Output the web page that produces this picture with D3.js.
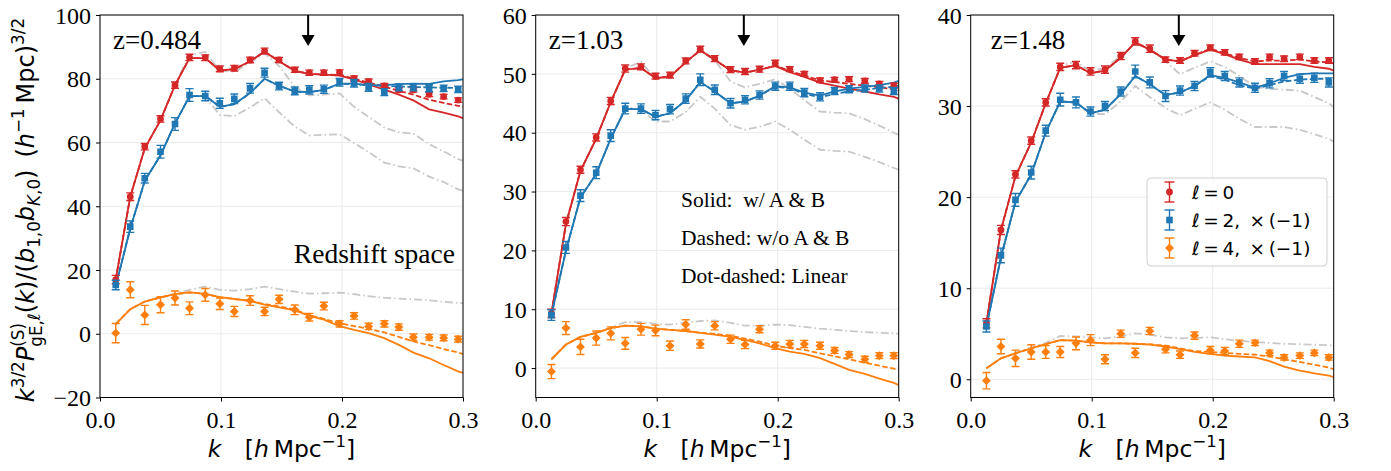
<!DOCTYPE html>
<html>
<head>
<meta charset="utf-8">
<script src="https://cdn.jsdelivr.net/npm/d3@7"></script>
<style>
  body { margin: 0; background: #fff; }
  svg { display: block; }
</style>
</head>
<body>
<div id="chart"></div>
<script>
// k bins of the measurements, and the model curves (one extra point at the edge)
var kData = [0.013, 0.025, 0.037, 0.050, 0.062, 0.074, 0.087, 0.099, 0.111, 0.124, 0.136, 0.148,
             0.161, 0.173, 0.185, 0.198, 0.210, 0.222, 0.235, 0.247, 0.259, 0.272, 0.284, 0.296];
var kModel = [0.013, 0.025, 0.037, 0.050, 0.062, 0.074, 0.087, 0.099, 0.111, 0.124, 0.136, 0.148,
              0.161, 0.173, 0.185, 0.198, 0.210, 0.222, 0.235, 0.247, 0.259, 0.272, 0.284, 0.296, 0.300];
var xTicks = [0.0, 0.1, 0.2, 0.3];
var arrowK = [0.172, 0.172, 0.172];
var redshifts = ["z=0.484", "z=1.03", "z=1.48"];

// ---- z = 0.484
var mono1 = [17.0, 43.0, 58.7, 67.4, 78.0, 86.7, 86.6, 83.1, 83.3, 85.9, 88.7, 85.9, 82.8, 81.9, 81.9, 82.0, 80.1, 79.1, 77.8, 76.5, 76.5, 75.1, 74.4, 73.3];
var mono1Err = [1.3, 1.2, 1.0, 1.0, 1.0, 1.0, 0.9, 0.9, 0.9, 0.9, 0.9, 0.8, 0.8, 0.8, 0.8, 0.8, 0.8, 0.8, 0.7, 0.7, 0.7, 0.7, 0.7, 0.7];
var quad1 = [15.3, 33.6, 48.8, 57.1, 65.8, 74.9, 74.6, 72.3, 73.7, 77.0, 81.9, 77.7, 76.2, 76.5, 76.7, 78.9, 78.6, 77.3, 75.8, 77.3, 77.3, 77.0, 77.0, 76.7];
var quad1Err = [1.5, 1.8, 1.5, 2.0, 2.0, 2.0, 1.5, 1.6, 1.5, 1.5, 1.4, 1.2, 1.2, 1.3, 1.3, 1.2, 1.2, 1.2, 1.1, 1.1, 1.1, 1.1, 1.0, 1.0];
var hexa1 = [0.2, 13.8, 5.9, 9.1, 11.2, 8.0, 12.2, 9.4, 7.0, 10.4, 7.0, 10.8, 7.5, 5.2, 8.7, 3.1, 5.6, 2.3, 3.1, 2.1, -1.1, -1.1, -1.3, -1.7];
var hexa1Err = [3.0, 2.5, 3.0, 2.5, 2.2, 2.0, 2.0, 1.8, 1.6, 1.5, 1.3, 1.3, 1.5, 1.2, 1.2, 1.0, 1.0, 1.0, 1.0, 1.0, 1.0, 0.9, 0.9, 0.9];
var mono1Solid = [17.0, 43.0, 58.2, 67.0, 78.0, 86.5, 86.5, 82.6, 83.0, 85.5, 88.5, 85.5, 82.5, 81.5, 81.3, 81.0, 79.8, 78.2, 76.6, 75.0, 73.2, 70.4, 69.4, 68.2, 67.6];
var mono1Dashed = [17.0, 43.0, 58.2, 67.0, 78.0, 86.5, 86.5, 82.6, 83.0, 85.5, 88.5, 85.5, 82.5, 81.5, 81.3, 81.2, 80.0, 78.8, 77.5, 76.2, 75.0, 73.4, 72.4, 71.5, 71.2];
var mono1Lin = [17.0, 43.0, 58.2, 67.0, 78.0, 87.5, 88.4, 82.5, 82.2, 85.0, 88.0, 84.0, 77.5, 74.8, 75.0, 75.4, 71.2, 68.0, 64.7, 63.2, 62.8, 59.5, 57.2, 54.8, 54.3];
var quad1Solid = [15.0, 33.0, 48.0, 56.0, 66.0, 74.5, 74.6, 71.2, 72.0, 75.5, 80.0, 77.8, 76.0, 75.8, 76.5, 78.5, 78.5, 78.0, 78.0, 78.3, 78.5, 78.4, 79.2, 79.6, 79.8];
var quad1Dashed = [15.0, 33.0, 48.0, 56.0, 66.0, 74.5, 74.6, 71.2, 72.0, 75.5, 80.0, 77.8, 76.0, 75.8, 76.5, 78.4, 78.3, 77.9, 77.8, 77.6, 77.4, 77.3, 77.2, 77.1, 77.0];
var quad1Lin = [15.0, 33.0, 48.0, 56.0, 66.0, 74.5, 74.4, 68.6, 68.3, 71.0, 73.9, 69.5, 65.0, 62.2, 62.4, 62.6, 59.8, 57.0, 53.7, 52.5, 51.9, 49.3, 47.6, 45.3, 44.9];
var hexa1Solid = [3.0, 7.7, 10.1, 11.4, 12.4, 13.0, 12.5, 11.5, 10.9, 10.3, 9.1, 8.3, 7.3, 5.6, 4.4, 2.4, 1.2, 0.2, -1.4, -3.5, -5.9, -7.7, -9.8, -11.8, -12.3];
var hexa1Dashed = [3.0, 7.7, 10.1, 11.4, 12.4, 13.0, 12.5, 11.5, 10.9, 10.3, 9.3, 8.6, 7.6, 5.8, 4.7, 3.3, 2.4, 1.6, 0.4, -1.0, -2.4, -3.6, -4.8, -5.9, -6.3];
var hexa1Lin = [3.0, 7.7, 10.1, 11.5, 12.6, 13.8, 14.8, 13.8, 13.5, 14.0, 14.8, 14.0, 13.2, 12.6, 12.7, 12.9, 12.4, 11.8, 11.3, 11.0, 10.8, 10.5, 10.0, 9.7, 9.6];

// ---- z = 1.03
var mono2 = [9.3, 24.9, 33.7, 39.2, 45.4, 50.9, 51.2, 49.6, 49.8, 52.2, 54.2, 52.6, 50.7, 50.4, 50.8, 51.8, 50.8, 50.0, 48.9, 49.0, 49.1, 48.8, 48.3, 48.0];
var mono2Err = [0.7, 0.7, 0.6, 0.6, 0.6, 0.6, 0.5, 0.5, 0.5, 0.5, 0.5, 0.5, 0.5, 0.5, 0.5, 0.5, 0.4, 0.4, 0.4, 0.4, 0.4, 0.4, 0.4, 0.4];
var quad2 = [9.0, 20.5, 29.3, 33.2, 39.5, 44.1, 44.1, 43.0, 44.0, 45.8, 49.0, 47.3, 45.0, 45.6, 46.4, 47.9, 47.9, 46.8, 46.1, 47.1, 47.4, 47.5, 47.5, 47.1];
var quad2Err = [0.9, 1.0, 1.0, 1.0, 1.0, 0.9, 0.8, 0.8, 0.8, 0.8, 1.0, 0.8, 0.8, 0.7, 0.7, 0.7, 0.7, 0.7, 0.7, 0.6, 0.6, 0.6, 0.6, 0.6];
var hexa2 = [-0.6, 6.8, 3.6, 5.1, 5.9, 4.2, 6.6, 6.4, 3.8, 7.4, 4.1, 7.2, 4.9, 4.0, 6.6, 3.8, 4.1, 4.1, 3.8, 3.0, 2.3, 1.5, 2.1, 2.1];
var hexa2Err = [1.2, 1.1, 1.3, 1.2, 1.1, 1.0, 1.0, 0.9, 0.8, 0.8, 0.7, 0.7, 0.7, 0.7, 0.6, 0.6, 0.6, 0.6, 0.6, 0.5, 0.5, 0.5, 0.5, 0.5];
var mono2Solid = [9.3, 24.5, 33.5, 39.0, 45.2, 50.7, 51.0, 49.3, 49.5, 52.0, 54.0, 52.4, 50.6, 50.2, 50.7, 51.3, 50.3, 49.5, 48.5, 48.0, 47.5, 47.0, 46.5, 46.1, 45.8];
var mono2Dashed = [9.3, 24.5, 33.5, 39.0, 45.2, 50.7, 51.0, 49.3, 49.5, 52.0, 54.0, 52.4, 50.6, 50.2, 50.7, 51.4, 50.5, 49.7, 48.9, 48.6, 48.3, 48.0, 47.7, 47.4, 47.2];
var mono2Lin = [9.3, 24.5, 33.5, 39.0, 45.2, 51.0, 52.0, 49.2, 49.5, 52.0, 54.0, 52.3, 48.7, 47.7, 48.3, 49.1, 47.5, 45.5, 43.6, 43.4, 43.3, 42.3, 41.2, 40.0, 39.6];
var quad2Solid = [9.0, 20.0, 29.0, 33.0, 39.0, 44.0, 44.0, 42.7, 43.3, 45.5, 48.6, 47.0, 45.0, 45.3, 46.3, 47.9, 47.7, 46.8, 46.3, 47.0, 47.5, 47.8, 48.1, 48.5, 48.8];
var quad2Dashed = [9.0, 20.0, 29.0, 33.0, 39.0, 44.0, 44.0, 42.7, 43.3, 45.5, 48.6, 47.0, 45.0, 45.3, 46.3, 47.8, 47.6, 46.6, 46.0, 46.6, 47.0, 47.3, 47.6, 47.8, 48.0];
var quad2Lin = [9.0, 20.0, 29.0, 33.0, 39.0, 44.4, 43.9, 41.9, 41.9, 43.5, 46.1, 44.1, 41.3, 40.5, 41.0, 41.9, 40.5, 38.8, 37.1, 36.9, 36.8, 35.9, 35.0, 34.0, 33.7];
var hexa2Solid = [1.5, 4.0, 5.3, 6.0, 6.8, 7.2, 7.1, 6.7, 6.5, 6.3, 6.0, 5.7, 5.3, 4.8, 4.2, 3.4, 2.8, 2.4, 1.7, 0.7, -0.3, -1.0, -1.8, -2.5, -2.9];
var hexa2Dashed = [1.5, 4.0, 5.3, 6.0, 6.8, 7.2, 7.1, 6.7, 6.5, 6.3, 6.0, 5.8, 5.5, 5.0, 4.5, 3.8, 3.4, 3.1, 2.5, 2.0, 1.5, 0.9, 0.4, -0.1, -0.3];
var hexa2Lin = [1.5, 4.0, 5.3, 6.0, 6.9, 7.8, 7.8, 7.5, 7.4, 7.7, 8.0, 8.1, 7.7, 7.2, 7.2, 7.4, 7.3, 7.0, 6.7, 6.5, 6.3, 6.1, 6.0, 5.9, 5.8];

// ---- z = 1.48
var mono3 = [6.15, 16.4, 22.5, 26.2, 30.4, 34.3, 34.5, 33.8, 34.0, 35.5, 37.1, 36.3, 35.1, 35.0, 35.8, 36.4, 35.9, 35.4, 34.9, 35.4, 35.2, 35.4, 35.0, 35.0];
var mono3Err = [0.5, 0.5, 0.4, 0.4, 0.4, 0.4, 0.4, 0.4, 0.4, 0.4, 0.4, 0.4, 0.3, 0.3, 0.3, 0.3, 0.3, 0.3, 0.3, 0.3, 0.3, 0.3, 0.3, 0.3];
var quad3 = [5.8, 13.6, 19.7, 22.7, 27.3, 30.7, 30.4, 29.4, 30.0, 31.6, 33.8, 32.6, 31.1, 31.7, 32.2, 33.7, 33.3, 32.6, 32.0, 32.5, 33.3, 33.0, 33.1, 32.6];
var quad3Err = [0.6, 0.8, 0.7, 0.7, 0.6, 0.7, 0.6, 0.5, 0.5, 0.5, 0.7, 0.6, 0.6, 0.5, 0.5, 0.5, 0.5, 0.5, 0.5, 0.5, 0.5, 0.5, 0.5, 0.5];
var hexa3 = [-0.15, 3.6, 2.3, 3.0, 3.0, 3.0, 3.95, 4.3, 2.2, 5.0, 2.9, 5.3, 3.3, 2.7, 4.8, 3.2, 3.1, 3.9, 4.0, 2.9, 2.4, 2.6, 2.9, 2.4];
var hexa3Err = [0.9, 0.8, 0.9, 0.8, 0.7, 0.6, 0.7, 0.6, 0.5, 0.4, 0.5, 0.4, 0.4, 0.4, 0.4, 0.4, 0.4, 0.4, 0.3, 0.3, 0.3, 0.3, 0.3, 0.3];
var mono3Solid = [6.2, 16.4, 22.3, 26.0, 30.3, 34.2, 34.5, 33.6, 33.9, 35.3, 37.0, 36.2, 35.1, 34.9, 35.6, 36.2, 35.7, 35.1, 34.6, 34.6, 34.6, 34.6, 34.3, 34.1, 33.9];
var mono3Dashed = [6.2, 16.4, 22.3, 26.0, 30.3, 34.2, 34.5, 33.6, 33.9, 35.3, 37.0, 36.2, 35.1, 34.9, 35.6, 36.3, 35.8, 35.3, 34.9, 35.0, 35.0, 35.1, 34.9, 34.8, 34.7];
var mono3Lin = [6.2, 16.4, 22.3, 26.0, 30.3, 34.4, 34.9, 33.8, 34.2, 35.5, 36.9, 36.2, 34.9, 33.5, 34.2, 34.9, 34.3, 33.3, 32.1, 31.9, 31.8, 31.7, 31.0, 30.3, 29.9];
var quad3Solid = [5.8, 13.4, 19.5, 22.5, 27.1, 30.5, 30.4, 29.2, 29.6, 31.3, 33.3, 32.4, 31.2, 31.5, 32.2, 33.4, 33.1, 32.6, 32.0, 32.5, 33.1, 33.5, 33.6, 33.6, 33.6];
var quad3Dashed = [5.8, 13.4, 19.5, 22.5, 27.1, 30.5, 30.4, 29.2, 29.6, 31.3, 33.3, 32.4, 31.2, 31.5, 32.2, 33.3, 32.9, 32.3, 31.9, 32.3, 32.7, 32.9, 33.0, 33.0, 33.0];
var quad3Lin = [5.8, 13.4, 19.5, 22.5, 27.1, 30.6, 30.3, 29.2, 29.1, 30.5, 32.2, 31.0, 29.8, 29.0, 29.7, 30.4, 29.6, 28.6, 27.7, 27.7, 27.7, 27.4, 26.9, 26.4, 26.1];
var hexa3Solid = [1.2, 2.3, 2.85, 3.4, 3.85, 4.3, 4.24, 4.06, 3.95, 3.95, 3.9, 3.8, 3.6, 3.3, 3.0, 2.8, 2.6, 2.5, 2.4, 2.0, 1.4, 0.95, 0.66, 0.4, 0.25];
var hexa3Dashed = [1.2, 2.3, 2.85, 3.4, 3.85, 4.3, 4.24, 4.06, 3.95, 3.95, 3.9, 3.85, 3.7, 3.4, 3.1, 3.0, 2.9, 2.8, 2.7, 2.5, 2.2, 1.9, 1.6, 1.3, 1.1];
var hexa3Lin = [1.2, 2.3, 2.9, 3.5, 4.0, 4.75, 4.7, 4.6, 4.5, 4.7, 5.05, 4.9, 4.6, 4.5, 4.55, 4.6, 4.4, 4.2, 4.1, 4.0, 3.9, 3.85, 3.8, 3.75, 3.7];

var yDomains = [[-20, 100], [-5, 60], [-2, 40]];
var yTicks = [[-20, 0, 20, 40, 60, 80, 100], [0, 10, 20, 30, 40, 50, 60], [0, 10, 20, 30, 40]];

// ---------------------------------------------------------------
var W = 1391, H = 471;
var plotTop = 15, plotBottom = 397.5, plotW = 363;
var panelLeft = [100, 535.7, 970.7];
var zLabelX = [13, 13, 20];

var red = "#d62728", blue = "#1f77b4", orange = "#ff7f0e", gray = "#c8c8c8";
var serif = "'Liberation Serif', 'Times New Roman', serif";
var sans = "'DejaVu Sans', sans-serif";

var panels = [
    { mono: mono1, monoErr: mono1Err, quad: quad1, quadErr: quad1Err, hexa: hexa1, hexaErr: hexa1Err,
      models: [[mono1Solid, mono1Dashed, mono1Lin], [quad1Solid, quad1Dashed, quad1Lin], [hexa1Solid, hexa1Dashed, hexa1Lin]] },
    { mono: mono2, monoErr: mono2Err, quad: quad2, quadErr: quad2Err, hexa: hexa2, hexaErr: hexa2Err,
      models: [[mono2Solid, mono2Dashed, mono2Lin], [quad2Solid, quad2Dashed, quad2Lin], [hexa2Solid, hexa2Dashed, hexa2Lin]] },
    { mono: mono3, monoErr: mono3Err, quad: quad3, quadErr: quad3Err, hexa: hexa3, hexaErr: hexa3Err,
      models: [[mono3Solid, mono3Dashed, mono3Lin], [quad3Solid, quad3Dashed, quad3Lin], [hexa3Solid, hexa3Dashed, hexa3Lin]] }
];
var seriesColors = [red, blue, orange];
var markerShapes = ["circle", "square", "diamond"];

var svg = d3.select("#chart").append("svg")
    .attr("width", W)
    .attr("height", H)
    .style("background", "#fff");

function fmtTick(v) {
    return (v < 0 ? "\u2212" : "") + Math.abs(v);
}

// draws a marker at (0,0) of group g
function drawMarker(g, shape, color) {
    if (shape === "circle") {
        g.append("path").attr("d", d3.symbol(d3.symbolCircle, 36)()).attr("fill", color);
    } else if (shape === "square") {
        g.append("path").attr("d", d3.symbol(d3.symbolSquare, 44)()).attr("fill", color);
    } else {
        g.append("path").attr("d", d3.symbol(d3.symbolSquare, 40)())
            .attr("transform", "rotate(45)").attr("fill", color);
    }
}

panels.forEach(function(p, pi) {
    var left = panelLeft[pi];
    var x = d3.scaleLinear().domain([0, 0.3]).range([left, left + plotW]);
    var y = d3.scaleLinear().domain(yDomains[pi]).range([plotBottom, plotTop]);

    var g = svg.append("g");

    // grid
    g.selectAll(".gx").data(xTicks).enter().append("line")
        .attr("x1", function(d) { return x(d); }).attr("x2", function(d) { return x(d); })
        .attr("y1", plotTop).attr("y2", plotBottom)
        .attr("stroke", "#ebebeb").attr("stroke-width", 1);
    g.selectAll(".gy").data(yTicks[pi]).enter().append("line")
        .attr("x1", left).attr("x2", left + plotW)
        .attr("y1", function(d) { return y(d); }).attr("y2", function(d) { return y(d); })
        .attr("stroke", "#ebebeb").attr("stroke-width", 1);

    var clipId = "clip" + pi;
    svg.append("clipPath").attr("id", clipId).append("rect")
        .attr("x", left).attr("y", plotTop).attr("width", plotW).attr("height", plotBottom - plotTop);
    var plot = g.append("g").attr("clip-path", "url(#" + clipId + ")");

    var line = d3.line()
        .x(function(d, i) { return x(kModel[i]); })
        .y(function(d) { return y(d); });

    // linear (dot-dashed gray) first
    p.models.forEach(function(m) {
        plot.append("path").attr("d", line(m[2]))
            .attr("fill", "none").attr("stroke", gray).attr("stroke-width", 1.8)
            .attr("stroke-dasharray", "8,3,1.5,3");
    });
    // solid and dashed
    p.models.forEach(function(m, si) {
        plot.append("path").attr("d", line(m[1]))
            .attr("fill", "none").attr("stroke", seriesColors[si]).attr("stroke-width", 1.8)
            .attr("stroke-dasharray", "5.5,2.5");
        plot.append("path").attr("d", line(m[0]))
            .attr("fill", "none").attr("stroke", seriesColors[si]).attr("stroke-width", 1.8);
    });

    // data with error bars
    var sets = [[p.mono, p.monoErr], [p.quad, p.quadErr], [p.hexa, p.hexaErr]];
    sets.forEach(function(s, si) {
        var color = seriesColors[si];
        var pts = plot.selectAll(".pt" + si).data(s[0]).enter().append("g");
        pts.each(function(v, i) {
            var e = s[1][i];
            var px = x(kData[i]);
            var sel = d3.select(this);
            sel.append("line").attr("x1", px).attr("x2", px)
                .attr("y1", y(v - e)).attr("y2", y(v + e))
                .attr("stroke", color).attr("stroke-width", 1.4);
            [v - e, v + e].forEach(function(c) {
                sel.append("line").attr("x1", px - 4).attr("x2", px + 4)
                    .attr("y1", y(c)).attr("y2", y(c))
                    .attr("stroke", color).attr("stroke-width", 1.4);
            });
            var mk = sel.append("g").attr("transform", "translate(" + px + "," + y(v) + ")");
            drawMarker(mk, markerShapes[si], color);
        });
    });

    // frame
    g.append("rect").attr("x", left).attr("y", plotTop)
        .attr("width", plotW).attr("height", plotBottom - plotTop)
        .attr("fill", "none").attr("stroke", "#000").attr("stroke-width", 1);

    // axes
    var xAxis = g.append("g")
        .attr("transform", "translate(0," + plotBottom + ")")
        .call(d3.axisBottom(x).tickValues(xTicks).tickSize(4).tickPadding(4)
            .tickFormat(d3.format(".1f")));
    var yAxis = g.append("g")
        .attr("transform", "translate(" + left + ",0)")
        .call(d3.axisLeft(y).tickValues(yTicks[pi]).tickSize(4).tickPadding(5).tickFormat(fmtTick));
    [xAxis, yAxis].forEach(function(a) {
        a.select(".domain").remove();
        a.selectAll("line").attr("stroke", "#000");
        a.selectAll("text").attr("font-family", serif).attr("font-size", 24).attr("fill", "#000");
    });
    xAxis.selectAll("text").attr("dy", "0.92em");
    yAxis.selectAll("text").attr("dy", "0.34em");

    // arrow marking k
    var ax = x(arrowK[pi]);
    g.append("line").attr("x1", ax).attr("x2", ax).attr("y1", plotTop).attr("y2", plotTop + 22)
        .attr("stroke", "#000").attr("stroke-width", 2);
    g.append("path")
        .attr("d", "M" + (ax - 6.5) + "," + (plotTop + 20) + "L" + (ax + 6.5) + "," + (plotTop + 20) +
            "L" + ax + "," + (plotTop + 31) + "Z")
        .attr("fill", "#000");

    // redshift label
    g.append("text").attr("x", left + zLabelX[pi]).attr("y", 49)
        .attr("font-family", serif).attr("font-size", 27).text(redshifts[pi]);

    // x axis label: k [h Mpc^-1]
    var xl = g.append("text").attr("x", left + plotW / 2).attr("y", 457)
        .attr("text-anchor", "middle").attr("font-family", sans).attr("font-size", 23.5);
    xl.append("tspan").attr("font-style", "italic").text("k");
    xl.append("tspan").text("\u2002\u2002[");
    xl.append("tspan").attr("font-style", "italic").text("h");
    xl.append("tspan").text("\u2009Mpc");
    xl.append("tspan").attr("font-size", 16.5).attr("dy", -10).text("\u22121");
    xl.append("tspan").attr("dy", 10).text("]");
});

// annotations
svg.append("text").attr("x", 455).attr("y", 263).attr("text-anchor", "end")
    .attr("font-family", serif).attr("font-size", 27.5).text("Redshift space");
var notes = ["Solid:  w/ A & B", "Dashed: w/o A & B", "Dot-dashed: Linear"];
var noteY = [207, 245, 283];
notes.forEach(function(t, i) {
    svg.append("text").attr("x", 681).attr("y", noteY[i]).attr("xml:space", "preserve")
        .style("white-space", "pre")
        .attr("font-family", serif).attr("font-size", 21.5).text(t);
});

// y axis label, built from pieces: [text, italic, level(1 sup, -1 sub), stackBack]
var fs = 24;
var ylabel = svg.append("text")
    .attr("transform", "translate(34,210) rotate(-90)")
    .attr("text-anchor", "middle")
    .attr("font-family", sans).attr("font-size", fs);
var pieces = [
    ["k", true, 0], ["3/2", false, 1], ["P", true, 0], ["(S)", false, 1], ["gE,", false, -1, true], ["\u2113", true, -1],
    ["(", false, 0], ["k", true, 0], [")/(", false, 0], ["b", true, 0], ["1,0", false, -1],
    ["b", true, 0], ["K", true, -1], [",0", false, -1], [")\u2002(", false, 0], ["h", true, 0], ["\u22121", false, 1],
    ["\u2009Mpc)", false, 0], ["3/2", false, 1]
];
var cur = 0, lastSup = null;
pieces.forEach(function(pc) {
    var level = pc[2];
    var shift = level === 1 ? 0.42 * fs : (level === -1 ? -0.25 * fs : 0);
    var ts = ylabel.append("tspan").text(pc[0]);
    if (pc[1]) ts.attr("font-style", "italic");
    if (level !== 0) ts.attr("font-size", fs * 0.7);
    if (pc[3] && lastSup) {
        // subscript stacked under the previous superscript
        ts.attr("dx", -lastSup.node().getComputedTextLength());
        shift = -0.33 * fs;
    }
    ts.attr("dy", cur - shift);
    cur = shift;
    if (level === 1) lastSup = ts;
});

// legend in the last panel
var lg = svg.append("g");
lg.append("rect").attr("x", 1147).attr("y", 178).attr("width", 180).attr("height", 88)
    .attr("rx", 4).attr("fill", "#fff").attr("fill-opacity", 0.8)
    .attr("stroke", "#d0d0d0").attr("stroke-width", 1);
var legendRows = [["0", ""], ["2", ",\u2002\u00d7\u2009(\u22121)"], ["4", ",\u2002\u00d7\u2009(\u22121)"]];
var legendY = [192, 220, 248];
legendRows.forEach(function(r, i) {
    var cy = legendY[i], cx = 1169.5, color = seriesColors[i];
    lg.append("line").attr("x1", cx).attr("x2", cx).attr("y1", cy - 10).attr("y2", cy + 10)
        .attr("stroke", color).attr("stroke-width", 1.4);
    [cy - 10, cy + 10].forEach(function(c) {
        lg.append("line").attr("x1", cx - 5).attr("x2", cx + 5).attr("y1", c).attr("y2", c)
            .attr("stroke", color).attr("stroke-width", 1.4);
    });
    var mk = lg.append("g").attr("transform", "translate(" + cx + "," + cy + ")");
    drawMarker(mk, markerShapes[i], color);
    var t = lg.append("text").attr("x", 1192).attr("y", cy + 6.5)
        .attr("font-family", sans).attr("font-size", 18.5);
    t.append("tspan").attr("font-style", "italic").text("\u2113");
    t.append("tspan").text("\u2009=\u2009" + r[0] + r[1]);
});
</script>
</body>
</html>
